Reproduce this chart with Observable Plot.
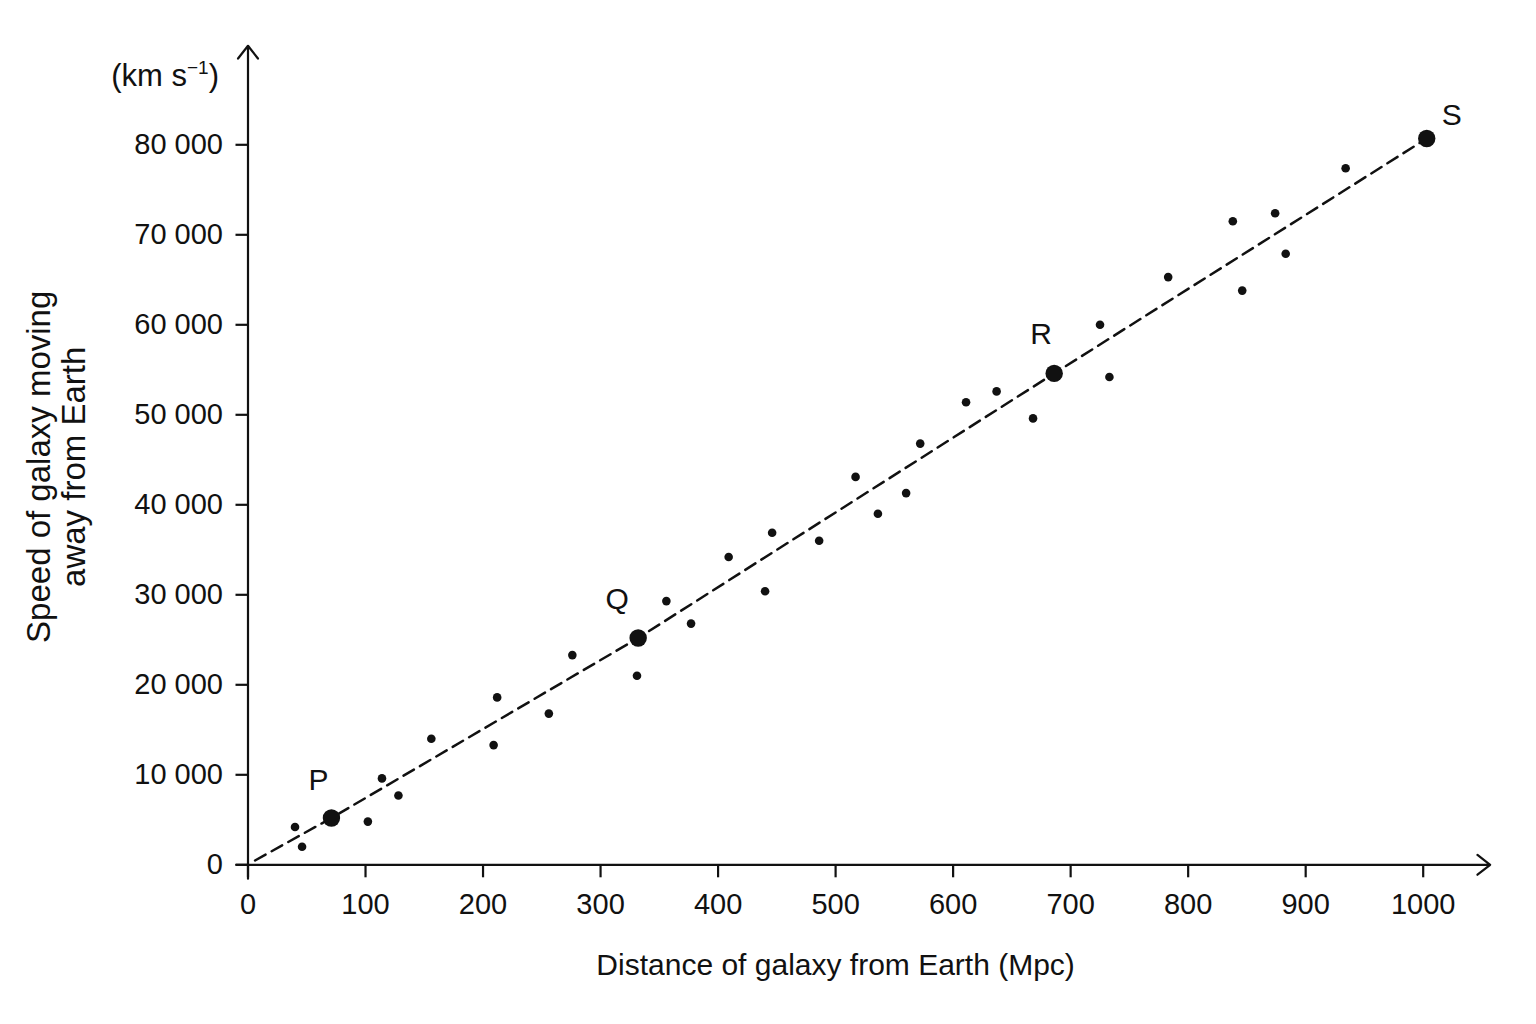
<!DOCTYPE html>
<html>
<head>
<meta charset="utf-8">
<script src="https://cdn.jsdelivr.net/npm/d3@7"></script>
<script src="https://cdn.jsdelivr.net/npm/@observablehq/plot@0.6"></script>
<style>
  html, body { margin: 0; padding: 0; background: #fff; overflow: hidden; }
  #chart svg { display: block; }
</style>
</head>
<body>
<div id="chart"></div>
<script>
// ---- data ----
const galaxyDistance = [40, 46, 102, 114, 128, 156, 209, 212, 256, 276, 331, 356, 377, 409, 440, 446, 486, 517, 536, 560, 572, 611, 637, 668, 725, 733, 783, 838, 846, 874, 883, 934];
const galaxySpeed    = [4200, 2000, 4800, 9600, 7700, 14000, 13300, 18600, 16800, 23300, 21000, 29300, 26800, 34200, 30400, 36900, 36000, 43100, 39000, 41300, 46800, 51400, 52600, 49600, 60000, 54200, 65300, 71500, 63800, 72400, 67900, 77400];

const keyNames    = ["P", "Q", "R", "S"];
const keyDistance = [71, 332, 686, 1003];
const keySpeed    = [5200, 25200, 54600, 80700];

const fitDistance = [6, 71, 332, 686, 1003];
const fitSpeed    = [480, 5200, 25200, 54600, 80700];

const xTicks = [0, 100, 200, 300, 400, 500, 600, 700, 800, 900, 1000];
const yTicks = [0, 10000, 20000, 30000, 40000, 50000, 60000, 70000, 80000];

const xAxisExtent = [-10, 1057];
const yAxisExtent = [-1550, 91000];

const xTitle = "Distance of galaxy from Earth (Mpc)";
const yTitle = "Speed of galaxy moving\naway from Earth";

// ---- tables built from the arrays ----
const galaxies = galaxyDistance.map((d, i) => ({distance: d, speed: galaxySpeed[i]}));
const keys = keyNames.map((n, i) => ({name: n, distance: keyDistance[i], speed: keySpeed[i]}));
const fit = fitDistance.map((d, i) => ({distance: d, speed: fitSpeed[i]}));
const axes = [
  {x1: xAxisExtent[0], x2: xAxisExtent[1], y1: 0, y2: 0},
  {x1: 0, x2: 0, y1: yAxisExtent[0], y2: yAxisExtent[1]}
];

const labelOffset = {P: [-13, -38], Q: [-21, -39], R: [-13, -39], S: [25, -23]};
const fmt = d => d === 0 ? "0" : d3.format(",")(d).replace(/,/g, " ");
const FONT = "'Liberation Sans', Arial, Helvetica, sans-serif";
const INK = "#111";

const plot = Plot.plot({
  width: 1536,
  height: 1024,
  marginLeft: 247.5,
  marginRight: 113.3,
  marginTop: 144.3,
  marginBottom: 159.7,
  x: {domain: [0, 1000]},
  y: {domain: [0, 80000]},
  style: {fontFamily: FONT, fontSize: "28px", color: INK, background: "#fff", overflow: "visible"},
  marks: [
    Plot.axisX({ticks: xTicks, tickSize: 13, tickPadding: 16, fontSize: 29, strokeWidth: 2.2, label: null, tickFormat: d => String(d)}),
    Plot.axisY({ticks: yTicks, tickSize: 12, tickPadding: 13, fontSize: 29, strokeWidth: 2.2, label: null, tickFormat: fmt}),
    Plot.arrow(axes, {x1: "x1", x2: "x2", y1: "y1", y2: "y2", stroke: INK, strokeWidth: 2.2, headAngle: 76, headLength: 11}),
    Plot.line(fit, {x: "distance", y: "speed", stroke: INK, strokeWidth: 2.5, strokeDasharray: "12,7"}),
    Plot.dot(galaxies, {x: "distance", y: "speed", r: 4.3, fill: INK}),
    Plot.dot(keys, {x: "distance", y: "speed", r: 8.7, fill: INK}),
    ...keys.map(k => Plot.text([k], {x: "distance", y: "speed", text: "name", fontSize: 30, fill: INK,
      dx: labelOffset[k.name][0], dy: labelOffset[k.name][1]})),
    Plot.text([xTitle], {frameAnchor: "bottom", text: d => d, dy: 110, fontSize: 30, fill: INK}),
    Plot.text([yTitle], {frameAnchor: "left", text: d => d, rotate: -90, textAnchor: "middle",
      dx: -192, dy: -38, fontSize: 33, fill: INK, lineHeight: 1.06})
  ]
});

document.getElementById("chart").appendChild(plot);

// unit label with a real superscript
const svg = d3.select(plot);
const unit = svg.append("text")
  .attr("x", 219).attr("y", 86)
  .attr("text-anchor", "end")
  .attr("font-family", FONT)
  .attr("font-size", 31)
  .attr("fill", INK);
unit.append("tspan").text("(km s");
unit.append("tspan").attr("dy", -12).attr("font-size", 19).text("\u22121");
unit.append("tspan").attr("dy", 12).text(")");
</script>
</body>
</html>
